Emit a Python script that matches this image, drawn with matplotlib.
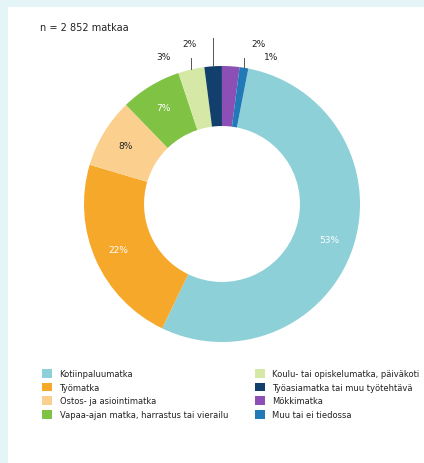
import matplotlib
matplotlib.use("Agg")
import matplotlib.pyplot as plt
from matplotlib.patches import Rectangle, Patch
import numpy as np

# Trip purpose shares (%)
categories = [
    "Kotiinpaluumatka",
    "Työmatka",
    "Ostos- ja asiointimatka",
    "Vapaa-ajan matka, harrastus tai vierailu",
    "Koulu- tai opiskelumatka, päiväkoti",
    "Työasiamatka tai muu työtehtävä",
    "Mökkimatka",
    "Muu tai ei tiedossa",
]
shares = [53, 22, 8, 7, 3, 2, 2, 1]
title_text = "n = 2 852 matkaa"

colors = ["#8dd0d8", "#f6a82a", "#fbd08f", "#80c244",
          "#d5e8a6", "#123f6b", "#8b4fb6", "#2179b8"]
label_colors = ["white", "white", "#222222", "white"]

W, H = 424, 464
fig = plt.figure(figsize=(W / 100, H / 100), dpi=100)
fig.patch.set_facecolor("#e5f4f6")
fig.patches.append(Rectangle((8 / W, 0), 1 - 8 / W, 1 - 8 / H,
                             transform=fig.transFigure, facecolor="white",
                             edgecolor="none", zorder=-10))

# Donut: centre at (222, 205) px, outer radius 138 px
R = 138
cx, cy = 222, 205
half = 1.45
ax = fig.add_axes([(cx - half * R) / W, (H - cy - half * R) / H,
                   2 * half * R / W, 2 * half * R / H])

start = 90 - 11  # degrees, counter-clockwise from +x
wedges, _ = ax.pie(shares, colors=colors, startangle=start, counterclock=False,
                   radius=1.0, wedgeprops=dict(width=0.435, edgecolor="none"))
ax.set_xlim(-half, half)
ax.set_ylim(-half, half)
ax.set_aspect("equal")
ax.axis("off")

total = sum(shares)
# angle (clockwise from top) of each wedge middle
cum = np.cumsum([0] + shares)
mids = [11 + 360 * (cum[i] + cum[i + 1]) / 2 / total for i in range(len(shares))]

# Labels inside the ring for the larger segments
for i in range(4):
    a = np.deg2rad(mids[i])
    r = 0.82
    ax.text(r * np.sin(a), r * np.cos(a), f"{shares[i]}%", ha="center",
            va="center", fontsize=6.5, color=label_colors[i])

# Small segments: label outside with a short leader line
# (line top, text dx, text dy)
outside = {
    4: (1.06, -0.2, 1.07),
    5: (1.20, -0.17, 1.16),
    6: (None, 0.2, 1.16),
    7: (1.06, 0.2, 1.07),
}
for i, (ltop, dx, ty) in outside.items():
    a = np.deg2rad(mids[i])
    x0, y0 = np.sin(a), np.cos(a)
    if ltop is not None:
        ax.plot([x0, x0], [y0, ltop], color="#555555", lw=0.7)
    ax.text(x0 + dx, ty, f"{shares[i]}%", ha="center", va="center",
            fontsize=6.5, color="#222222")

fig.text(40 / W, 1 - 28 / H, title_text, fontsize=7, color="#222222",
         va="center", ha="left")

# Legend in two columns of four
handles = [Patch(facecolor=c, edgecolor="none") for c in colors]
for col, xpx in enumerate([42, 255]):
    idx = range(col * 4, col * 4 + 4)
    leg = fig.legend([handles[i] for i in idx], [categories[i] for i in idx],
                     loc="upper left", bbox_to_anchor=(xpx / W, 1 - 370 / H),
                     frameon=False, fontsize=6, handlelength=1.2,
                     handleheight=1.2, handletextpad=0.9, labelspacing=0.55,
                     borderaxespad=0, borderpad=0)
    for t in leg.get_texts():
        t.set_color("#222222")

fig.savefig("out.png", dpi=100, facecolor=fig.get_facecolor())
